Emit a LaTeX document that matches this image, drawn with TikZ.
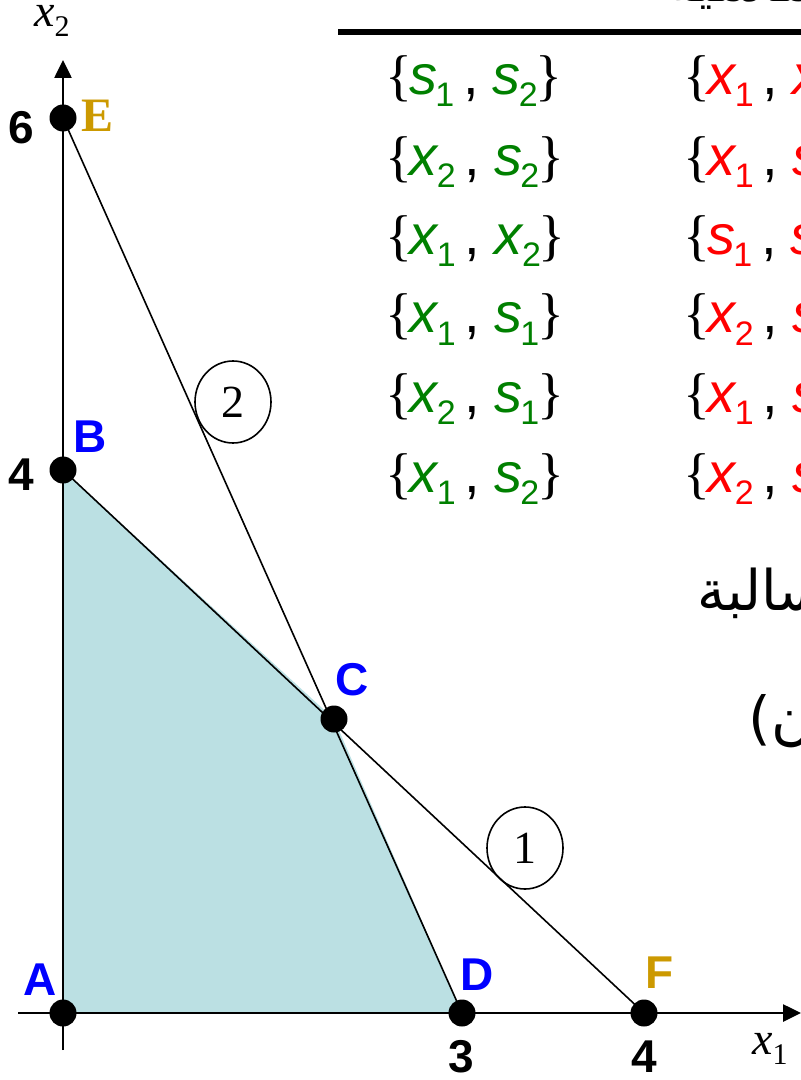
\documentclass[tikz,border=0pt]{standalone}
\usepackage{fontspec}
\setmainfont{Liberation Sans}
\newfontfamily\tnr{Liberation Serif}
\newfontfamily\arabicfont[Script=Arabic]{DejaVu Sans}
\TeXXeTstate=1
\usetikzlibrary{arrows.meta,shapes.geometric}
\definecolor{regionteal}{RGB}{187,224,227}
\definecolor{ptblue}{RGB}{0,0,255}
\definecolor{ptgold}{RGB}{204,153,0}
\definecolor{basicgreen}{RGB}{0,128,0}
\definecolor{nonbasicred}{RGB}{255,0,0}
\newcommand{\vtok}[1]{\expandafter\vtokaux#1}
\def\vtokaux#1#2{\textit{#1}\kern-1pt\raisebox{-6pt}{\fontsize{17}{17}\selectfont #2}}
\newcommand{\setbrace}[1]{{\tnr #1}}
\newcommand{\varset}[3]{\setbrace{\{}\kern-1.5pt{\color{#1}\vtok{#2}}\hspace{4.5pt},\hspace{7pt}{\color{#1}\vtok{#3}}\kern-1pt\setbrace{\}}}
\tikzset{
  vertex/.style={circle, fill=black, inner sep=0pt, minimum size=13.5pt},
  ptname/.style={font=\fontsize{23}{23}\selectfont\bfseries, text=ptblue},
  ticknum/.style={font=\fontsize{23}{23}\selectfont\bfseries},
  conline/.style={line width=0.8pt},
  axisline/.style={line width=1.3pt, -{Triangle[length=9pt,width=8.5pt]}},
  lineno/.style={draw, ellipse, line width=0.8pt, inner sep=0pt, minimum width=38pt,
    minimum height=41pt, font=\tnr\fontsize{23}{23}\selectfont},
  setrow/.style={anchor=base west, inner sep=0pt, font=\fontsize{28}{28}\selectfont},
  arabictext/.style={anchor=base west, inner sep=0pt, font=\arabicfont\fontsize{28}{28}\selectfont}
}

\begin{document}
\begin{tikzpicture}[x=0.5pt, y=-0.5pt]
  \useasboundingbox (0,0) rectangle (801,1080);
  \clip (0,0) rectangle (801,1080);
  % corner points
  \coordinate (A) at (63,1013);
  \coordinate (B) at (63,470);
  \coordinate (C) at (334,719);
  \coordinate (D) at (462,1013);
  \coordinate (E) at (63,118);
  \coordinate (F) at (644,1013);
  \coordinate (xstart) at (18,1013);
  \coordinate (xend) at (801,1013);
  \coordinate (ystart) at (63,1050);
  \coordinate (yend) at (63,60);

  % feasible region
  \fill[regionteal] (A) -- (B) -- (C) -- (D) -- cycle;

  % axes
  \draw[axisline] (xstart) -- (xend);
  \draw[axisline] (ystart) -- (yend);
  \node (xonelabel) at (770,1049) {\tnr\fontsize{23}{23}\selectfont\textit{x}\raisebox{-5pt}{\fontsize{15}{15}\selectfont 1}};
  \node (xtwolabel) at (52,21) {\tnr\fontsize{23}{23}\selectfont\textit{x}\raisebox{-5pt}{\fontsize{15}{15}\selectfont 2}};

  % constraints
  \draw[conline] (E) -- (D);
  \draw[conline] (B) -- (F);
  \node[lineno] (ctwo) at (233,402) {2};
  \node[lineno] (cone) at (525,848) {1};

  % vertices
  \foreach \p in {A,B,C,D,E,F}
    \node[vertex] (\p dot) at (\p) {};
  \node[ptname] (Aname) at (40,980) {A};
  \node[ptname] (Bname) at (90,437) {B};
  \node[ptname] (Cname) at (352,680) {C};
  \node[ptname] (Dname) at (477,975) {D};
  \node[ptname, text=ptgold] (Fname) at (660,973) {F};
  \node[font=\tnr\fontsize{24}{24}\selectfont\bfseries, text=ptgold] (Ename) at (98,116) {E};
  \node[ticknum] (sixnum) at (21,128) {6};
  \node[ticknum] (fournumy) at (21,475) {4};
  \node[ticknum] (threenum) at (461,1057) {3};
  \node[ticknum] (fournumx) at (644,1057) {4};

  % table of basic / non-basic variables
  \node[arabictext, font=\arabicfont\bfseries\fontsize{24}{24}\selectfont] (header) at (667,2) {\beginR غير الأساسية\endR};
  \draw[line width=3pt] (338,32) -- (801,32);
  \foreach \k/\yb/\pa/\pb/\qa/\qb in {1/95/s1/s2/x1/x2, 2/176/x2/s2/x1/s1, 3/255/x1/x2/s1/s2,
      4/333/x1/s1/x2/s2, 5/412/x2/s1/x1/s2, 6/492/x1/s2/x2/s1} {
    \node[setrow] (basic\k) at (385,\yb) {\varset{basicgreen}{\pa}{\pb}};
    \node[setrow] (nonbasic\k) at (683,\yb) {\varset{nonbasicred}{\qa}{\qb}};
  }

  % notes
  \node[arabictext] (signnote) at (697,610) {\beginR غير سالبة\endR};
  \node[arabictext, font=\arabicfont\fontsize{29}{29}\selectfont] (countnote) at (748,738) {\beginR ن)\endR};
\end{tikzpicture}
\end{document}
